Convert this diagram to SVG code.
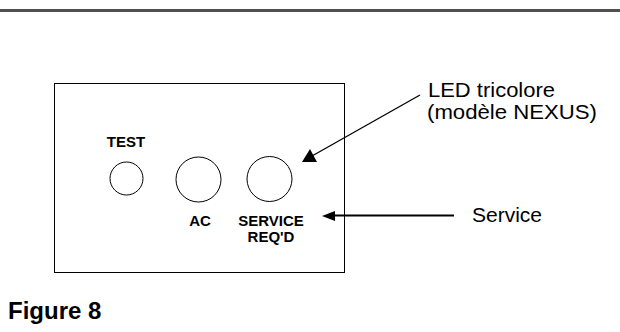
<svg xmlns="http://www.w3.org/2000/svg" width="620" height="332" viewBox="0 0 620 332">
<style>
.b{font-family:"Liberation Sans",Arial,sans-serif;font-weight:bold;fill:#000;text-anchor:middle}
.r{font-family:"Liberation Sans",Arial,sans-serif;fill:#000}
.o{fill:none;stroke:#000;stroke-width:1}
</style>
<rect x="0" y="9" width="620" height="3" fill="#505050"/>
<g id="panel">
<rect class="o" x="54.5" y="83.5" width="290" height="189"/>
</g>
<g id="test">
<circle class="o" cx="126.5" cy="178.5" r="16.5"/>
<text class="b" x="126" y="147" font-size="15">TEST</text>
</g>
<g id="ac">
<circle class="o" cx="198.5" cy="179.5" r="22.5"/>
<text class="b" x="200" y="225.5" font-size="15">AC</text>
</g>
<g id="service-led">
<circle class="o" cx="269.5" cy="179" r="22.5"/>
<text class="b" x="271" y="225.5" font-size="15">SERVICE</text>
<text class="b" x="271" y="242" font-size="15">REQ'D</text>
</g>
<g id="led-label">
<text class="r" x="428" y="96.5" font-size="21" textLength="127" lengthAdjust="spacingAndGlyphs">LED tricolore</text>
<text class="r" x="427" y="119" font-size="21" textLength="170" lengthAdjust="spacingAndGlyphs">(modèle NEXUS)</text>
</g>
<g id="service-label">
<text class="r" x="472" y="222" font-size="21">Service</text>
</g>
<g id="connectors">
<line x1="420" y1="95" x2="312" y2="156" stroke="#000" stroke-width="1.3"/>
<polygon points="302,162 310,149 317,162" fill="#000"/>
<line x1="334" y1="215.5" x2="454" y2="215.5" stroke="#000" stroke-width="2"/>
<polygon points="322,216 335,211 335,221" fill="#000"/>
</g>
<text class="r" x="8" y="319" font-size="24" font-weight="bold">Figure 8</text>
</svg>
